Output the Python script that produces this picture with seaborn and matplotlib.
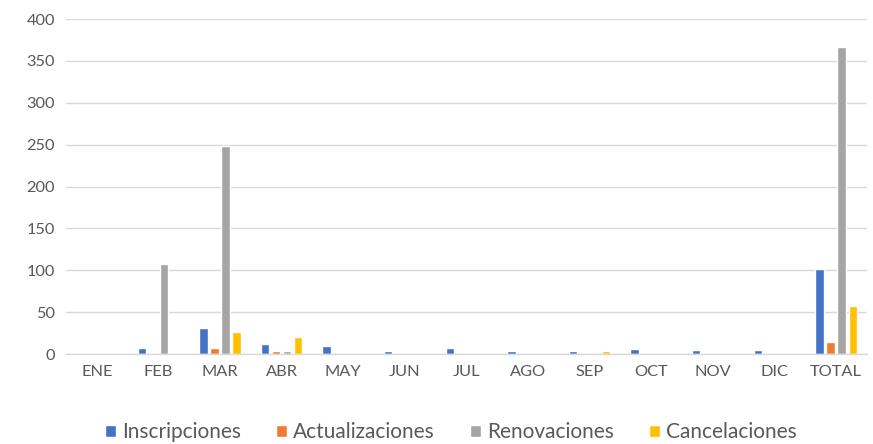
import matplotlib
matplotlib.use("Agg")
import matplotlib.pyplot as plt
import seaborn as sns
import pandas as pd

categories = ["ENE", "FEB", "MAR", "ABR", "MAY", "JUN", "JUL", "AGO", "SEP", "OCT", "NOV", "DIC", "TOTAL"]
inscripciones = [0, 7, 31, 12, 9, 3, 7, 3, 3, 6, 5, 5, 102]
actualizaciones = [0, 0, 7, 3, 0, 0, 0, 0, 0, 0, 0, 0, 14]
renovaciones = [0, 107, 248, 3, 0, 0, 0, 0, 0, 0, 0, 0, 366]
cancelaciones = [0, 0, 26, 20, 0, 0, 0, 0, 3, 0, 0, 0, 57]
series_names = ["Inscripciones", "Actualizaciones", "Renovaciones", "Cancelaciones"]
colors = ["#4472C4", "#ED7D31", "#A5A5A5", "#FFC000"]

rows = []
for name, vals in zip(series_names, [inscripciones, actualizaciones, renovaciones, cancelaciones]):
    for c, v in zip(categories, vals):
        rows.append({"Mes": c, "Serie": name, "Valor": v})
df = pd.DataFrame(rows)

sns.set_theme(style="white")
plt.rcParams["font.family"] = ["Lato", "DejaVu Sans"]

fig = plt.figure(figsize=(8.73, 4.44), dpi=100)
ax = fig.add_axes([0.0756, 0.2027, 0.9174, 0.7545])
sns.barplot(data=df, x="Mes", y="Valor", hue="Serie", order=categories,
            hue_order=series_names, palette=colors, width=0.72, gap=0.25,
            ax=ax, saturation=1, legend=True)

ax.set_ylim(0, 400)
ax.set_yticks(range(0, 401, 50))
ax.set_xlim(-0.5, 12.5)
ax.yaxis.grid(True, color="#D9D9D9", linewidth=1)
ax.set_axisbelow(True)
for s in ["top", "right", "left"]:
    ax.spines[s].set_visible(False)
ax.spines["bottom"].set_color("#D9D9D9")
ax.spines["bottom"].set_linewidth(1)
ax.tick_params(axis="both", length=0, labelsize=11.8, colors="#595959", pad=8)
ax.set_xlabel("")
ax.set_ylabel("")

handles, labels = ax.get_legend_handles_labels()
ax.get_legend().remove()
fig.legend(handles, labels, loc="center", bbox_to_anchor=(451 / 873, 12 / 444), ncol=4,
           frameon=False, fontsize=15, labelcolor="#595959", handlelength=0.5,
           handleheight=0.5, handletextpad=0.3, columnspacing=1.7, borderaxespad=0,
           borderpad=0)

fig.savefig("out.png", dpi=100)
